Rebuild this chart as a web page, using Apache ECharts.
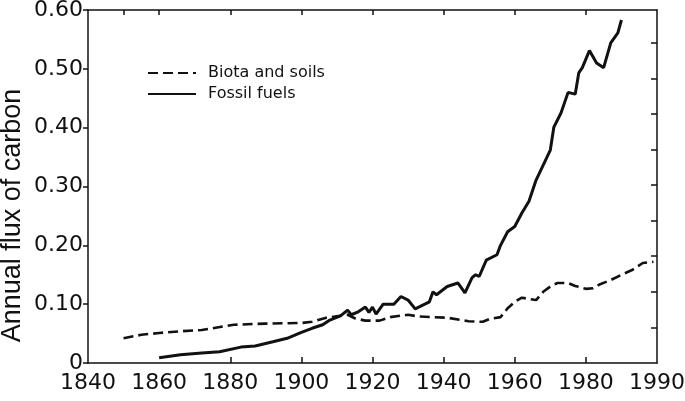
<!DOCTYPE html>
<html>
<head>
<meta charset="utf-8">
<style>
  html, body { margin: 0; padding: 0; background: #fff; }
  #chart { width: 685px; height: 401px; }
</style>
<script src="https://cdn.jsdelivr.net/npm/echarts@6/dist/echarts.min.js"></script>
</head>
<body>
<div id="chart"></div>
<script>
// 数据
const biotaYears = [1850, 1855, 1860, 1866, 1872, 1881, 1890, 1900, 1903, 1907, 1913, 1915, 1918, 1922, 1925, 1930, 1933, 1941, 1947, 1951, 1953, 1956, 1958, 1960, 1962, 1964, 1966, 1968, 1970, 1972, 1975, 1977, 1980, 1982, 1984, 1987, 1990, 1993, 1996, 1999]
const biotaValues = [0.042, 0.048, 0.051, 0.054, 0.056, 0.065, 0.067, 0.068, 0.070, 0.077, 0.082, 0.076, 0.072, 0.072, 0.078, 0.082, 0.079, 0.077, 0.071, 0.070, 0.075, 0.078, 0.093, 0.104, 0.111, 0.109, 0.107, 0.121, 0.130, 0.136, 0.136, 0.131, 0.126, 0.127, 0.134, 0.141, 0.150, 0.158, 0.170, 0.172]

const fossilYears = [1860, 1866, 1872, 1877, 1883, 1887, 1892, 1896, 1900, 1903, 1906, 1908, 1911, 1913, 1914, 1916, 1918, 1919, 1920, 1921, 1923, 1926, 1928, 1930, 1932, 1936, 1937, 1938, 1941, 1944, 1946, 1948, 1949, 1950, 1952, 1955, 1956, 1958, 1960, 1962, 1964, 1966, 1969, 1970, 1971, 1973, 1975, 1977, 1978, 1979, 1981, 1983, 1985, 1987, 1989, 1990]
const fossilValues = [0.009, 0.014, 0.017, 0.019, 0.027, 0.029, 0.036, 0.042, 0.052, 0.059, 0.065, 0.073, 0.080, 0.090, 0.082, 0.087, 0.095, 0.086, 0.095, 0.083, 0.100, 0.100, 0.113, 0.107, 0.092, 0.104, 0.121, 0.116, 0.130, 0.136, 0.119, 0.145, 0.150, 0.147, 0.175, 0.184, 0.200, 0.223, 0.232, 0.255, 0.275, 0.311, 0.349, 0.362, 0.401, 0.425, 0.460, 0.457, 0.493, 0.502, 0.531, 0.510, 0.502, 0.544, 0.561, 0.583]

// 坐标轴刻度
const bottomTicks = [1880, 1900, 1920, 1940, 1960, 1980]
const topTicks = [1850, 1860, 1880, 1900, 1920, 1940, 1960, 1980]
const rightTicks = [1, 2, 3, 4, 5, 6, 7, 8, 9]
const lastLabel = '1990'

const font = 'DejaVu Sans, Arial, sans-serif'
const titleFont = 'Liberation Sans, Arial, sans-serif'
const axisColor = '#111'

const chart = echarts.init(document.getElementById('chart'))
const option = {
  animation: false,
  backgroundColor: '#fff',
  grid: { left: 88, right: 28, top: 10, bottom: 38, outerBoundsMode: 'none' },
  legend: {
    orient: 'vertical',
    left: 142,
    top: 60,
    itemWidth: 48,
    itemHeight: 14,
    itemGap: 5,
    itemStyle: { opacity: 0 },
    textStyle: { color: '#111', fontSize: 16, fontFamily: font, padding: [0, 0, 0, 7] },
    data: ['Biota and soils', 'Fossil fuels']
  },
  xAxis: [
    {
      type: 'value',
      min: 1840,
      max: 2000,
      interval: 20,
      splitLine: { show: false },
      axisLine: { onZero: false, lineStyle: { color: axisColor, width: 1.5 } },
      axisTick: { inside: true, length: 6, customValues: bottomTicks, lineStyle: { color: axisColor, width: 1.5 } },
      axisLabel: {
        color: '#111',
        fontSize: 22,
        fontFamily: font,
        margin: 9,
        showMinLabel: true,
        showMaxLabel: true,
        formatter: (v) => (v === 2000 ? lastLabel : String(v))
      }
    },
    {
      type: 'value',
      position: 'top',
      min: 1840,
      max: 2000,
      interval: 20,
      splitLine: { show: false },
      axisLine: { onZero: false, lineStyle: { color: axisColor, width: 1.5 } },
      axisTick: { inside: true, length: 5, customValues: topTicks, lineStyle: { color: axisColor, width: 1.5 } },
      axisLabel: { show: false }
    }
  ],
  yAxis: [
    {
      type: 'value',
      min: 0,
      max: 0.6,
      interval: 0.1,
      name: 'Annual flux of carbon',
      nameLocation: 'middle',
      nameGap: 62,
      nameMoveOverlap: false,
      nameTextStyle: { color: '#111', fontSize: 27, fontFamily: titleFont, padding: [0, 58, 0, 0] },
      splitLine: { show: false },
      axisLine: { show: true, onZero: false, lineStyle: { color: axisColor, width: 1.5 } },
      axisTick: { show: true, length: 5, lineStyle: { color: axisColor, width: 1.5 } },
      axisLabel: {
        color: '#111',
        fontSize: 22,
        fontFamily: font,
        margin: 5,
        formatter: (v) => (v === 0 ? '0' : v.toFixed(2))
      }
    },
    {
      type: 'value',
      position: 'right',
      min: 0,
      max: 9.92,
      interval: 1,
      splitLine: { show: false },
      axisLine: { show: true, onZero: false, lineStyle: { color: axisColor, width: 1.5 } },
      axisTick: { show: true, inside: true, length: 6, customValues: rightTicks, lineStyle: { color: axisColor, width: 1.5 } },
      axisLabel: { show: false }
    }
  ],
  series: [
    {
      name: 'Biota and soils',
      type: 'line',
      symbol: 'none',
      lineStyle: { color: '#111', width: 2.6, type: [10, 5] },
      itemStyle: { color: '#111' },
      data: biotaYears.map((y, i) => [y, biotaValues[i]])
    },
    {
      name: 'Fossil fuels',
      type: 'line',
      symbol: 'none',
      lineStyle: { color: '#111', width: 3 },
      itemStyle: { color: '#111' },
      data: fossilYears.map((y, i) => [y, fossilValues[i]])
    }
  ]
}
chart.setOption(option)
</script>
</body>
</html>
